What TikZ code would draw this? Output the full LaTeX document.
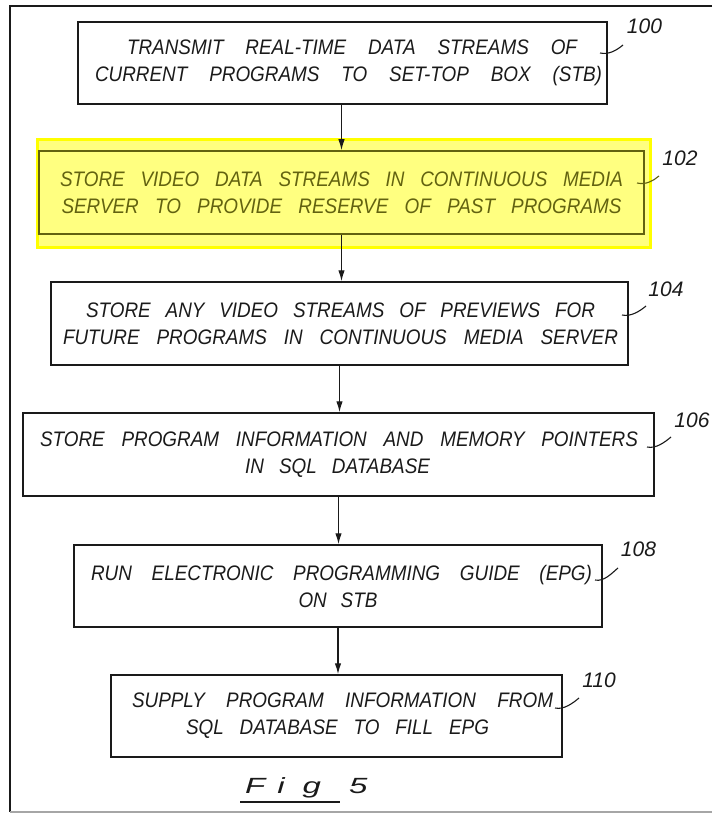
\documentclass[tikz,border=0pt]{standalone}
\usepackage{fontspec}
\setmainfont{Liberation Sans}
\newfontfamily\boxfam{Liberation Sans}[FakeStretch=0.9]
\newfontfamily\figfam{Liberation Sans}[FakeStretch=1.5]
\usetikzlibrary{arrows.meta}
\definecolor{ink}{HTML}{1A1A1A}
\definecolor{hlfill}{HTML}{FFFF80}
\definecolor{hledge}{HTML}{FFFF00}
\definecolor{oliveink}{HTML}{626210}
\newcommand\boxfont{\boxfam\fontsize{21}{27}\selectfont\itshape}
\newcommand\lblfont{\fontsize{21}{21}\selectfont\itshape}
\newcommand\myline[3]{\hspace*{#1}\makebox[#2][s]{#3}}
\tikzset{
  procbox/.style={draw=ink, line width=1.5pt, inner sep=0pt, align=center, font=\boxfont, text=ink},
  reflbl/.style={inner sep=0pt, font=\lblfont, text=ink},
  flowarr/.style={draw=ink, line width=1.2pt, -{Latex[length=11pt,width=6.5pt]}},
  leader/.style={draw=ink, line width=1.1pt},
  hlbox/.style={fill=hlfill, draw=hledge, line width=3pt, inner sep=0pt}
}
\begin{document}
\begin{tikzpicture}[x=1pt,y=-1pt]
\useasboundingbox (0,0) rectangle (712,813);
% frame
\draw[ink, line width=2pt] (712,6) -- (10,6) -- (10,812);
\draw[gray!70, line width=1.5pt] (10,812) -- (712,812);
% highlight
\node[hlbox, minimum width=613pt, minimum height=108pt] (hl) at (344,193.5) {};
% boxes
\node[procbox, minimum width=529pt, minimum height=82pt] (b100) at (342.5,63)
  {\myline{19pt}{450pt}{TRANSMIT REAL-TIME DATA STREAMS OF}\\
   \myline{12pt}{507pt}{CURRENT PROGRAMS TO SET-TOP BOX (STB)}};
\node[procbox, draw=oliveink, text=oliveink, minimum width=605pt, minimum height=83pt] (b102) at (341.5,192.5)
  {\myline{0pt}{563pt}{STORE VIDEO DATA STREAMS IN CONTINUOUS MEDIA}\\
   \myline{0pt}{560pt}{SERVER TO PROVIDE RESERVE OF PAST PROGRAMS}};
\node[procbox, minimum width=577pt, minimum height=83pt] (b104) at (339.5,323.5)
  {\myline{2pt}{509pt}{STORE ANY VIDEO STREAMS OF PREVIEWS FOR}\\
   \myline{2pt}{555pt}{FUTURE PROGRAMS IN CONTINUOUS MEDIA SERVER}};
\node[procbox, minimum width=631pt, minimum height=83pt] (b106) at (338.5,454.5)
  {\myline{1pt}{598pt}{STORE PROGRAM INFORMATION AND MEMORY POINTERS}\\
   \myline{-2pt}{185pt}{IN SQL DATABASE}};
\node[procbox, minimum width=528pt, minimum height=82pt] (b108) at (338,586)
  {\myline{7pt}{501pt}{RUN ELECTRONIC PROGRAMMING GUIDE (EPG)}\\
   \myline{0pt}{79pt}{ON STB}};
\node[procbox, minimum width=451pt, minimum height=82pt] (b110) at (336.5,716)
  {\myline{12pt}{421pt}{SUPPLY PROGRAM INFORMATION FROM}\\
   \myline{2pt}{303pt}{SQL DATABASE TO FILL EPG}};
% arrows
\draw[flowarr] (b100.south -| b102.north) -- (b102.north);
\draw[flowarr] (b102.south) -- (b102.south |- b104.north);
\draw[flowarr] (b104.south) -- (b104.south |- b106.north);
\draw[flowarr] (b106.south) -- (b106.south |- b108.north);
\draw[flowarr] (b108.south) -- (b108.south |- b110.north);
% reference labels
\node[reflbl] (r100) at (644.5,26.5) {100};
\node[reflbl] (r102) at (680,158.5) {102};
\node[reflbl] (r104) at (666,289) {104};
\node[reflbl] (r106) at (692,420.5) {106};
\node[reflbl] (r108) at (638.5,549.5) {108};
\node[reflbl] (r110) at (599,680) {110};
% leaders
\coordinate (s100) at (600,53);  \coordinate (e100) at (623,45);
\coordinate (s102) at (637,183); \coordinate (e102) at (659,176);
\coordinate (s104) at (622,315); \coordinate (e104) at (646,306);
\coordinate (s106) at (647,447); \coordinate (e106) at (671,437);
\coordinate (s108) at (595,580); \coordinate (e108) at (618,568);
\coordinate (s110) at (555,708); \coordinate (e110) at (579,698);
\draw[leader] (s100) .. controls +(9,2) and +(-6,5) .. (e100);
\draw[leader, draw=oliveink] (s102) .. controls +(9,2) and +(-6,5) .. (e102);
\draw[leader] (s104) .. controls +(9,2) and +(-6,5) .. (e104);
\draw[leader] (s106) .. controls +(9,2) and +(-6,5) .. (e106);
\draw[leader] (s108) .. controls +(9,2) and +(-6,5) .. (e108);
\draw[leader] (s110) .. controls +(9,2) and +(-6,5) .. (e110);
% figure caption
\node[inner sep=0pt, anchor=base west, text=ink, font={\figfam\fontsize{22}{22}\selectfont\itshape}] (fig) at (245,793)
  {F\hspace{12pt}i\hspace{18pt}g\hspace{28pt}5};
\draw[ink, line width=1.2pt] ([xshift=-5pt,yshift=-9pt]fig.base west) -- +(100,0);
\end{tikzpicture}
\end{document}
